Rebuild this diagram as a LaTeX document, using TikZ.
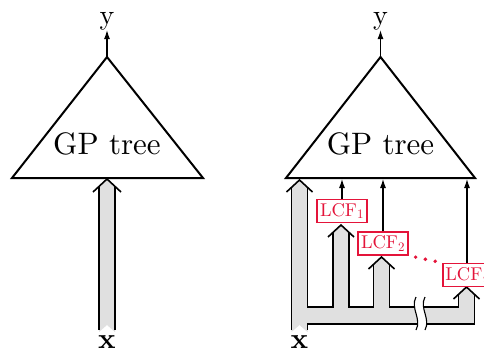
\documentclass[tikz,border=0pt]{standalone}
\usepackage{fontspec}
\setmainfont{lmroman10}[Extension=.otf,UprightFont=*-regular,BoldFont=*-bold,ItalicFont=*-italic,BoldItalicFont=*-bolditalic]
\usetikzlibrary{arrows.meta}
\definecolor{lcfred}{RGB}{228,20,58}
\definecolor{busgray}{RGB}{224,224,224}
\begin{document}
\begin{tikzpicture}[x=1pt,y=-1pt,
  tri/.style={draw=black,line width=2pt,line join=miter},
  sig/.style={-{Latex[length=9pt,width=6pt]},line width=1.1pt},
  lcf/.style={draw=lcfred,line width=1.5pt,fill=white,text=lcfred,inner sep=1.5pt,
    minimum width=50pt,minimum height=23pt,font=\fontsize{18.5}{20}\selectfont},
  wall/.style={line width=1.6pt,line join=miter},
  bustext/.style={font=\fontsize{31}{36}\selectfont,inner sep=0pt},
  ytext/.style={font=\fontsize{28}{32}\selectfont,inner sep=0pt},
  xtext/.style={font=\fontsize{29}{32}\selectfont\bfseries,inner sep=0pt},
  dotline/.style={draw=lcfred,line width=3.8pt,line cap=round,dash pattern=on 0pt off 10pt}
]
\useasboundingbox (0,0) rectangle (484,353);

% ---------- left: plain GP tree ----------
\coordinate (apexL) at (107,57);
\coordinate (blL) at (12,178);
\coordinate (brL) at (203,178);
\draw[tri] (apexL) -- (blL) -- (brL) -- cycle;
\node[bustext] (gpL) at (107,144) {GP tree};
\node[ytext] (yL) at (107,21) {y};
\node[xtext] (xL) at (107,342) {x};
\draw[sig] (apexL) -- (yL.south);

% wide input arrow
\fill[busgray] (99,332) -- (99,186.4) -- (107,179) -- (115,186.4) -- (115,332) -- (107,325) -- cycle;
\draw[wall] (99,330) -- (99,186.4) (115,330) -- (115,186.4);
\draw[wall] (93,192) -- (107,179) -- (121,192);

% ---------- right: GP tree fed by LCFs ----------
\coordinate (apexR) at (380.5,57);
\coordinate (blR) at (286,178);
\coordinate (brR) at (475,178);
\draw[tri] (apexR) -- (blR) -- (brR) -- cycle;
\node[bustext] (gpR) at (380.5,144) {GP tree};
\node[ytext] (yR) at (380.5,21) {y};
\node[xtext] (xR) at (299.5,342) {x};
\draw[sig] (apexR) -- (yR.south);

% branching input bus
\fill[busgray] (291.5,332) -- (291.5,187.4) -- (299.5,180) -- (307.5,187.4) -- (307.5,307)
  -- (333,307) -- (333,232.4) -- (341,225) -- (349,232.4) -- (349,307)
  -- (373.5,307) -- (373.5,264.4) -- (381.5,257) -- (389.5,264.4) -- (389.5,307)
  -- (458.5,307) -- (458.5,294.4) -- (466.5,287) -- (474.5,294.4) -- (474.5,324)
  -- (307.5,324) -- (307.5,332) -- (299.5,325) -- cycle;
\draw[wall] (291.5,330) -- (291.5,187.4);
\draw[wall] (307.5,187.4) -- (307.5,307) -- (333,307) -- (333,232.4);
\draw[wall] (349,232.4) -- (349,307) -- (373.5,307) -- (373.5,264.4);
\draw[wall] (389.5,264.4) -- (389.5,307) -- (458.5,307) -- (458.5,294.4);
\draw[wall] (474.5,294.4) -- (474.5,324) -- (307.5,324) -- (307.5,330);
\draw[wall] (286.5,192) -- (299.5,180) -- (312.5,192);
\draw[wall] (328,237) -- (341,225) -- (354,237);
\draw[wall] (368.5,269) -- (381.5,257) -- (394.5,269);
\draw[wall] (453.5,299) -- (466.5,287) -- (479.5,299);

% break in the bus
\fill[white] (416,297) .. controls (410,308) and (422,319) .. (416,330)
  -- (425,330) .. controls (431,319) and (419,308) .. (425,297) -- cycle;
\draw[line width=1.1pt] (416,297) .. controls (410,308) and (422,319) .. (416,330);
\draw[line width=1.1pt] (425,297) .. controls (419,308) and (431,319) .. (425,330);

% learned feature nodes
\node[lcf] (lcf1) at (342,211) {LCF\textsubscript{1}};
\node[lcf] (lcf2) at (383,243.5) {LCF\textsubscript{2}};
\node[lcf,anchor=west] (lcfn) at (442,275) {LCF\textsubscript{\itshape n}};
\coordinate (in1) at (342,179);
\coordinate (in2) at (383,179);
\coordinate (inn) at (467,179);
\draw[sig] (lcf1.north) -- (in1);
\draw[sig] (lcf2.north) -- (in2);
\draw[sig] (lcfn.north -| inn) -- (inn);
\draw[dotline,shorten <=7pt,shorten >=5pt] (lcf2.south east) -- (lcfn.north west);
\end{tikzpicture}
\end{document}
